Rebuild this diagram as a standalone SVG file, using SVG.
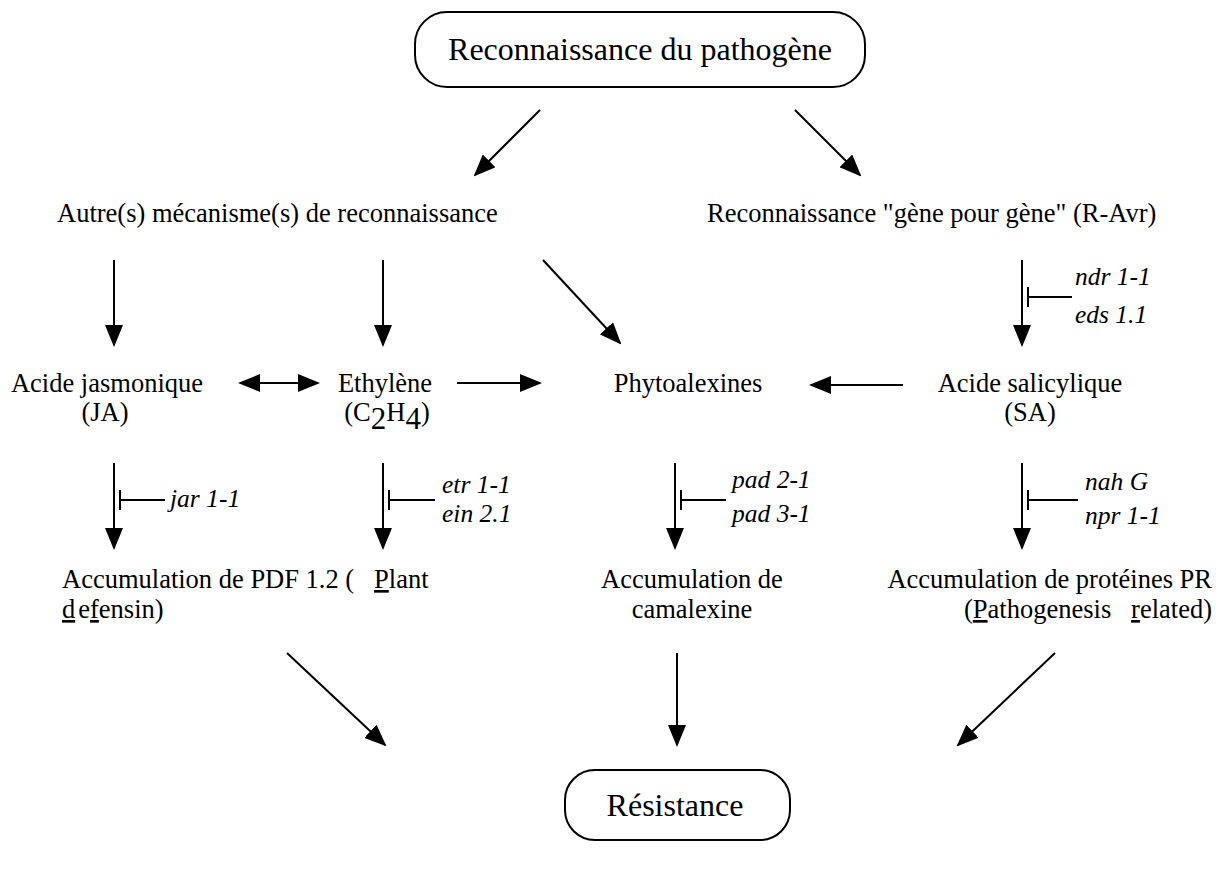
<svg xmlns="http://www.w3.org/2000/svg" width="1228" height="874" viewBox="0 0 1228 874">
<style>
text{font-family:"Liberation Serif","Times New Roman",serif;font-size:26.5px;fill:#000;white-space:pre}
.big{font-size:32px}
.it{font-style:italic;font-size:25.5px}
.u{text-decoration:underline}
.c{text-anchor:middle}
.e{text-anchor:end}
.ln{stroke:#000;stroke-width:2;fill:none}
.box{stroke:#000;stroke-width:2;fill:#fff}
</style>
<defs>
<marker id="ah" markerUnits="userSpaceOnUse" markerWidth="22" markerHeight="18" refX="20" refY="9" orient="auto">
<path d="M0,0 L22,9 L0,18 Z" fill="#000"/>
</marker>
<marker id="as" markerUnits="userSpaceOnUse" markerWidth="22" markerHeight="18" refX="2" refY="9" orient="auto">
<path d="M22,0 L0,9 L22,18 Z" fill="#000"/>
</marker>
</defs>
<rect width="1228" height="874" fill="#fff"/>
<g id="n-pathogene">
<rect class="box" x="415" y="12" width="450" height="75" rx="32"/>
<text class="big c" x="640" y="60">Reconnaissance du pathogène</text>
</g>
<g id="n-autre"><text x="57" y="222">Autre(s) mécanisme(s) de reconnaissance</text></g>
<g id="n-gene"><text x="707" y="222">Reconnaissance "gène pour gène" (R-Avr)</text></g>
<g id="n-ja"><text class="c" x="107" y="392">Acide jasmonique</text><text class="c" x="105" y="421">(JA)</text></g>
<g id="n-eth"><text class="c" x="385" y="392">Ethylène</text><text class="c" x="387" y="421">(C<tspan font-size="31" dy="8">2</tspan><tspan dy="-8">H</tspan><tspan font-size="31" dy="8">4</tspan><tspan dy="-8">)</tspan></text></g>
<g id="n-phyto"><text class="c" x="688" y="392">Phytoalexines</text></g>
<g id="n-sa"><text class="c" x="1030" y="392">Acide salicylique</text><text class="c" x="1030" y="421">(SA)</text></g>
<g id="n-pdf"><text x="62" y="588">Accumulation de PDF 1.2 (   <tspan class="u">P</tspan>lant</text><text x="62" y="618"><tspan class="u">d</tspan><tspan dx="3">e</tspan><tspan class="u">f</tspan>ensin)</text></g>
<g id="n-cam"><text class="c" x="692" y="588">Accumulation de</text><text class="c" x="692" y="618">camalexine</text></g>
<g id="n-pr"><text class="e" x="1212" y="588">Accumulation de protéines PR</text><text class="e" x="1212" y="618">(<tspan class="u">P</tspan>athogenesis   <tspan class="u">r</tspan>elated)</text></g>
<g id="n-res">
<rect class="box" x="565" y="770" width="225" height="70" rx="30"/>
<text class="big c" x="675" y="816">Résistance</text>
</g>
<g id="labels">
<text class="it" x="1075" y="285">ndr 1-1</text>
<text class="it" x="1075" y="323">eds 1.1</text>
<text class="it" x="170" y="507">jar 1-1</text>
<text class="it" x="442" y="493">etr 1-1</text>
<text class="it" x="442" y="522">ein 2.1</text>
<text class="it" x="732" y="488">pad 2-1</text>
<text class="it" x="732" y="522">pad 3-1</text>
<text class="it" x="1085" y="490">nah G</text>
<text class="it" x="1085" y="524">npr 1-1</text>
</g>
<g id="connectors">
<line class="ln" x1="540" y1="110" x2="475" y2="175" marker-end="url(#ah)"/>
<line class="ln" x1="795" y1="110" x2="860" y2="175" marker-end="url(#ah)"/>
<line class="ln" x1="114" y1="260" x2="114" y2="345" marker-end="url(#ah)"/>
<line class="ln" x1="383" y1="260" x2="383" y2="345" marker-end="url(#ah)"/>
<line class="ln" x1="543" y1="260" x2="620" y2="343" marker-end="url(#ah)"/>
<line class="ln" x1="1022" y1="260" x2="1022" y2="345" marker-end="url(#ah)"/>
<path class="ln" d="M1028,287 V307 M1028,297 H1072"/>
<line class="ln" x1="240" y1="383" x2="318" y2="383" marker-start="url(#as)" marker-end="url(#ah)"/>
<line class="ln" x1="457" y1="383" x2="540" y2="383" marker-end="url(#ah)"/>
<line class="ln" x1="903" y1="385" x2="811" y2="385" marker-end="url(#ah)"/>
<line class="ln" x1="114" y1="463" x2="114" y2="548" marker-end="url(#ah)"/>
<path class="ln" d="M120,490 V510 M120,500 H165"/>
<line class="ln" x1="383" y1="463" x2="383" y2="548" marker-end="url(#ah)"/>
<path class="ln" d="M389,490 V510 M389,500 H435"/>
<line class="ln" x1="675" y1="463" x2="675" y2="548" marker-end="url(#ah)"/>
<path class="ln" d="M681,490 V510 M681,500 H726"/>
<line class="ln" x1="1022" y1="463" x2="1022" y2="548" marker-end="url(#ah)"/>
<path class="ln" d="M1028,490 V510 M1028,500 H1078"/>
<line class="ln" x1="287" y1="653" x2="385" y2="745" marker-end="url(#ah)"/>
<line class="ln" x1="677" y1="653" x2="677" y2="745" marker-end="url(#ah)"/>
<line class="ln" x1="1055" y1="653" x2="958" y2="745" marker-end="url(#ah)"/>
</g>
</svg>
